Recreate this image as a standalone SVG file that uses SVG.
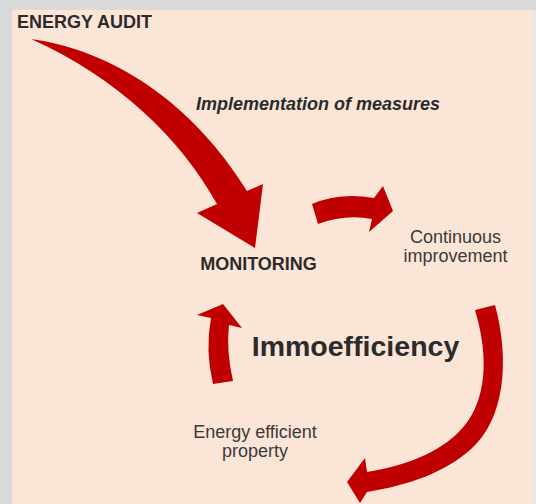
<svg xmlns="http://www.w3.org/2000/svg" width="536" height="504" viewBox="0 0 536 504">
<style>
.bg{fill:#d9d9d9}
.panel{fill:#fbe5d7}
.arr{fill:#c00000}
text{font-family:"Liberation Sans",Arial,sans-serif;fill:#2b2b2b}
.b{font-weight:bold}
.r{fill:#3a3a3a}
</style>
<rect class="bg" x="0" y="0" width="536" height="504"/>
<rect class="panel" x="12" y="10" width="521" height="494"/>
<rect x="533" y="10" width="3" height="494" fill="#e4e8ec"/>
<g id="connectors">
<path id="arrow-audit" class="arr" d="M31,39 C112,50 192,102 247,191 L263,184 L255,248 L197,213 L217,204 C180,138 118,78 31,39 Z"/>
<path id="arrow-continuous" class="arr" d="M312,204 Q340,192 374,198 L383,186 L393,211 L369,232 L372,219 Q345,214 318,224 Z"/>
<path id="arrow-property" class="arr" d="M475,310 L495,305 C510,360 505,420 470,450 C445,472 410,485 367,492 L360,503 L347,482 L365,458 L367,472 C410,465 445,450 465,425 C485,400 490,360 475,310 Z"/>
<path id="arrow-monitoring" class="arr" d="M213,384 Q205,350 211,318 L197,315 L223,304 L242,328 L229,325 Q226,350 233,381 Z"/>
</g>
<g id="energy-audit"><text class="b" x="17" y="28" font-size="18">ENERGY AUDIT</text></g>
<g id="implementation"><text class="b" x="196" y="110" font-size="18" font-style="italic">Implementation of measures</text></g>
<g id="monitoring"><text class="b" x="258.5" y="270" font-size="18" text-anchor="middle">MONITORING</text></g>
<g id="continuous"><text class="r" x="455.5" y="243" font-size="18" text-anchor="middle">Continuous<tspan x="455.5" dy="19">improvement</tspan></text></g>
<g id="immoefficiency"><text class="b" x="355.5" y="356" font-size="28.5" text-anchor="middle">Immoefficiency</text></g>
<g id="property"><text class="r" x="255" y="438" font-size="18" text-anchor="middle">Energy efficient<tspan x="255" dy="19">property</tspan></text></g>
</svg>
